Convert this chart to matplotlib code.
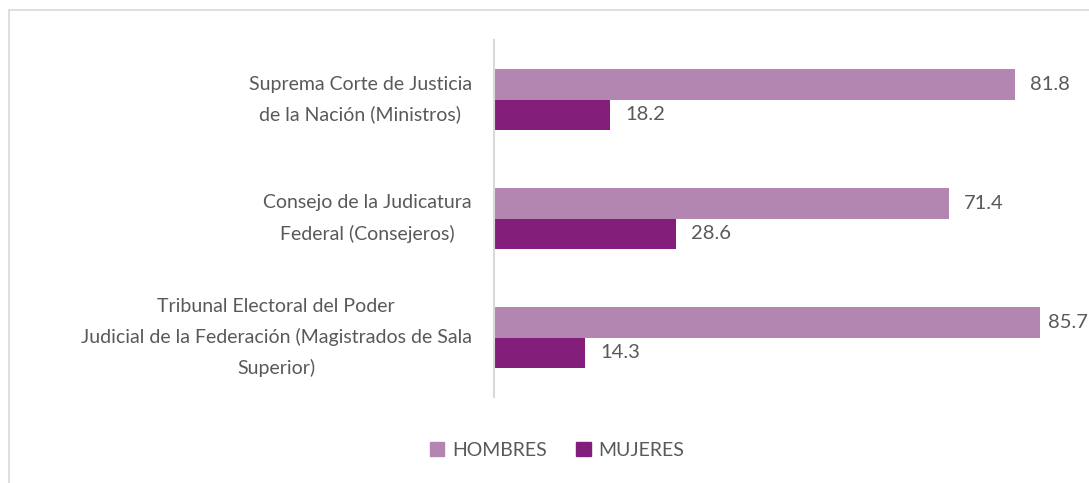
import matplotlib
matplotlib.use("Agg")
import matplotlib.pyplot as plt
from matplotlib.patches import Rectangle, Patch

categories = [
    "Suprema Corte de Justicia\nde la Nación (Ministros)",
    "Consejo de la Judicatura\nFederal (Consejeros)",
    "Tribunal Electoral del Poder\nJudicial de la Federación (Magistrados de Sala\nSuperior)",
]
hombres = [81.8, 71.4, 85.7]
mujeres = [18.2, 28.6, 14.3]
series_names = ["HOMBRES", "MUJERES"]

c_h = "#B386B1"
c_m = "#831F7A"
txt = "#595959"

plt.rcParams['font.family'] = ['Lato', 'DejaVu Sans']

W, H = 1089, 483
fig = plt.figure(figsize=(W / 100, H / 100), dpi=100)

# outer border
fig.patches.append(Rectangle((9 / W, -0.01), 1.2, 1 - 10 / H + 0.01, transform=fig.transFigure,
                             fill=False, edgecolor="#D9D9D9", linewidth=1.2))

ax_l, ax_r = 494 / W, 1080 / W
ax_b, ax_t = 1 - 397 / H, 1 - 40 / H
ax = fig.add_axes([ax_l, ax_b, ax_r - ax_l, ax_t - ax_b])

n = len(categories)
ys = list(range(n))
bh = 0.26
ax.barh([y - bh / 2 for y in ys], hombres, height=bh, color=c_h, label=series_names[0])
ax.barh([y + bh / 2 for y in ys], mujeres, height=bh, color=c_m, label=series_names[1])

ax.set_xlim(0, 92)
ax.set_ylim(n - 0.5, -0.5)

labels = []
for y, v in zip(ys, hombres):
    labels.append(ax.annotate(f"{v:.1f}", (v, y - bh / 2), xytext=(11, 0), textcoords="offset points",
                              va="center", ha="left", fontsize=14.5, color=txt, annotation_clip=False))
for y, v in zip(ys, mujeres):
    labels.append(ax.annotate(f"{v:.1f}", (v, y + bh / 2), xytext=(11, 0), textcoords="offset points",
                              va="center", ha="left", fontsize=14.5, color=txt, annotation_clip=False))

ax.set_yticks(ys)
ax.set_yticklabels(categories, fontsize=14, color=txt, multialignment="center",
                   linespacing=1.86, va="center")
ax.tick_params(axis="y", length=0, pad=16)
ax.set_xticks([])
for s in ["top", "right", "bottom"]:
    ax.spines[s].set_visible(False)
ax.spines["left"].set_color("#D9D9D9")
ax.spines["left"].set_linewidth(1.5)

handles = [Patch(color=c_h), Patch(color=c_m)]
fig.legend(handles, series_names, loc="center", bbox_to_anchor=(557 / W, 1 - 450 / H),
           ncol=2, frameon=False, fontsize=14, labelcolor=txt,
           handlelength=0.75, handleheight=0.75, handletextpad=0.4, columnspacing=1.5)

# keep value labels inside the figure (as the original does)
fig.canvas.draw()
r = fig.canvas.get_renderer()
for t in labels:
    bb = t.get_window_extent(r)
    if bb.x1 > W - 1:
        shift_px = bb.x1 - (W - 1)
        ox, oy = t.xyann
        t.xyann = (ox - shift_px * 72 / 100, oy)

fig.savefig("out.png", dpi=100, facecolor="white")
